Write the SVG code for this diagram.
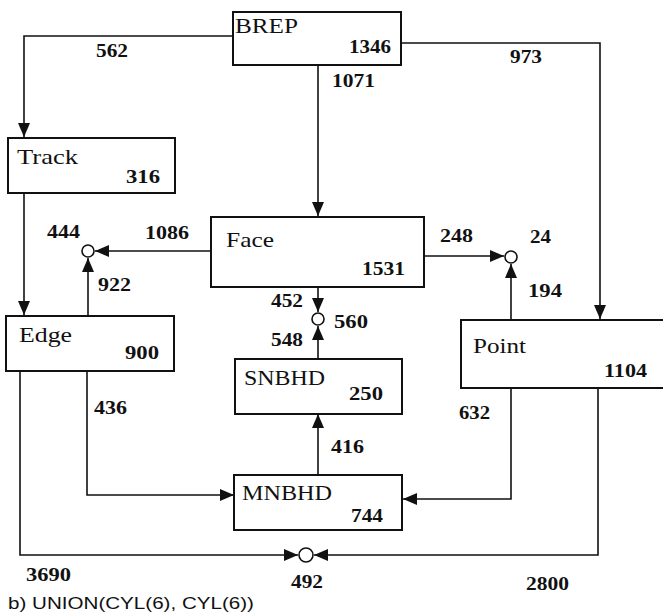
<svg xmlns="http://www.w3.org/2000/svg" width="663" height="614" viewBox="0 0 663 614">
<style>
  .box { fill: #fff; stroke: #111; stroke-width: 2; }
  .jn { fill: #fff; stroke: #111; stroke-width: 1.6; }
  .name { font-family: "Liberation Serif", "Times New Roman", serif; font-size: 21px; fill: #111; }
  .num { font-family: "Liberation Serif", "Times New Roman", serif; font-size: 18px; font-weight: bold; fill: #111; }
  .cap { font-family: "Liberation Sans", Arial, sans-serif; font-size: 17px; fill: #111; }
  .con path { fill: none; stroke: #111; stroke-width: 1.6; marker-end: url(#ah); }
</style>
<defs>
  <marker id="ah" markerUnits="userSpaceOnUse" markerWidth="16" markerHeight="12" refX="14" refY="6" orient="auto">
    <path d="M0,0 L14,6 L0,12 z" fill="#111"/>
  </marker>
</defs>
<rect width="663" height="614" fill="#fff"/>

<g id="connectors" class="con">
  <path id="c-brep-track" d="M232,36 H24 V137"/>
  <path id="c-brep-point" d="M401,43 H600 V319"/>
  <path id="c-brep-face" d="M318,65 V216"/>
  <path id="c-track-edge" d="M24,193 V315"/>
  <path id="c-face-j444" d="M211,251 H95"/>
  <path id="c-edge-j444" d="M88,316 V258"/>
  <path id="c-face-j24" d="M424,256 H504"/>
  <path id="c-point-j24" d="M511,320 V264"/>
  <path id="c-face-j560" d="M318,287 V312"/>
  <path id="c-snbhd-j560" d="M318,359 V326"/>
  <path id="c-mnbhd-snbhd" d="M318,475 V414"/>
  <path id="c-edge-mnbhd" d="M87,371 V495 H234"/>
  <path id="c-point-mnbhd" d="M511,388 V499 H403"/>
  <path id="c-edge-j492" d="M20,371 V555 H298"/>
  <path id="c-point-j492" d="M598,388 V555 H314"/>
  <g id="edge-labels">
    <text class="num" x="96" y="57" textLength="32" lengthAdjust="spacingAndGlyphs">562</text>
    <text class="num" x="510" y="63" textLength="32" lengthAdjust="spacingAndGlyphs">973</text>
    <text class="num" x="332" y="87" textLength="43" lengthAdjust="spacingAndGlyphs">1071</text>
    <text class="num" x="145" y="239" textLength="44" lengthAdjust="spacingAndGlyphs">1086</text>
    <text class="num" x="98" y="291" textLength="33" lengthAdjust="spacingAndGlyphs">922</text>
    <text class="num" x="440" y="242" textLength="33" lengthAdjust="spacingAndGlyphs">248</text>
    <text class="num" x="528" y="297" textLength="34" lengthAdjust="spacingAndGlyphs">194</text>
    <text class="num" x="271" y="307" textLength="32" lengthAdjust="spacingAndGlyphs">452</text>
    <text class="num" x="271" y="346" textLength="32" lengthAdjust="spacingAndGlyphs">548</text>
    <text class="num" x="331" y="453" textLength="33" lengthAdjust="spacingAndGlyphs">416</text>
    <text class="num" x="94" y="414" textLength="33" lengthAdjust="spacingAndGlyphs">436</text>
    <text class="num" x="459" y="419" textLength="31" lengthAdjust="spacingAndGlyphs">632</text>
    <text class="num" x="26" y="581" textLength="45" lengthAdjust="spacingAndGlyphs">3690</text>
    <text class="num" x="526" y="590" textLength="43" lengthAdjust="spacingAndGlyphs">2800</text>
  </g>
</g>

<g id="BREP">
  <rect class="box" x="233" y="12" width="168" height="53"/>
  <text class="name" x="235" y="33" textLength="63" lengthAdjust="spacingAndGlyphs">BREP</text>
  <text class="num" x="349" y="53" textLength="42" lengthAdjust="spacingAndGlyphs">1346</text>
</g>
<g id="Track">
  <rect class="box" x="8" y="138" width="167" height="55"/>
  <text class="name" x="17" y="164" textLength="61" lengthAdjust="spacingAndGlyphs">Track</text>
  <text class="num" x="126" y="183" textLength="34" lengthAdjust="spacingAndGlyphs">316</text>
</g>
<g id="Face">
  <rect class="box" x="211" y="217" width="213" height="70"/>
  <text class="name" x="226" y="247" textLength="48" lengthAdjust="spacingAndGlyphs">Face</text>
  <text class="num" x="362" y="275" textLength="43" lengthAdjust="spacingAndGlyphs">1531</text>
</g>
<g id="Edge">
  <rect class="box" x="6" y="316" width="168" height="55"/>
  <text class="name" x="19" y="342" textLength="53" lengthAdjust="spacingAndGlyphs">Edge</text>
  <text class="num" x="125" y="359" textLength="34" lengthAdjust="spacingAndGlyphs">900</text>
</g>
<g id="Point">
  <rect class="box" x="461" y="320" width="215" height="68"/>
  <text class="name" x="473" y="353" textLength="53" lengthAdjust="spacingAndGlyphs">Point</text>
  <text class="num" x="604" y="377" textLength="43" lengthAdjust="spacingAndGlyphs">1104</text>
</g>
<g id="SNBHD">
  <rect class="box" x="235" y="359" width="167" height="55"/>
  <text class="name" x="244" y="385" textLength="81" lengthAdjust="spacingAndGlyphs">SNBHD</text>
  <text class="num" x="349" y="400" textLength="34" lengthAdjust="spacingAndGlyphs">250</text>
</g>
<g id="MNBHD">
  <rect class="box" x="234" y="475" width="168" height="55"/>
  <text class="name" x="242" y="500" textLength="90" lengthAdjust="spacingAndGlyphs">MNBHD</text>
  <text class="num" x="351" y="522" textLength="32" lengthAdjust="spacingAndGlyphs">744</text>
</g>
<g id="j444">
  <circle class="jn" cx="88" cy="251" r="6"/>
  <text class="num" x="47" y="238" textLength="33" lengthAdjust="spacingAndGlyphs">444</text>
</g>
<g id="j24">
  <circle class="jn" cx="511" cy="257" r="6"/>
  <text class="num" x="530" y="243" textLength="21" lengthAdjust="spacingAndGlyphs">24</text>
</g>
<g id="j560">
  <circle class="jn" cx="318" cy="319" r="6"/>
  <text class="num" x="334" y="328" textLength="34" lengthAdjust="spacingAndGlyphs">560</text>
</g>
<g id="j492">
  <circle class="jn" cx="306" cy="555" r="7"/>
  <text class="num" x="291" y="588" textLength="32" lengthAdjust="spacingAndGlyphs">492</text>
</g>

<text class="cap" x="8" y="609" textLength="246" lengthAdjust="spacingAndGlyphs">b) UNION(CYL(6), CYL(6))</text>
</svg>
